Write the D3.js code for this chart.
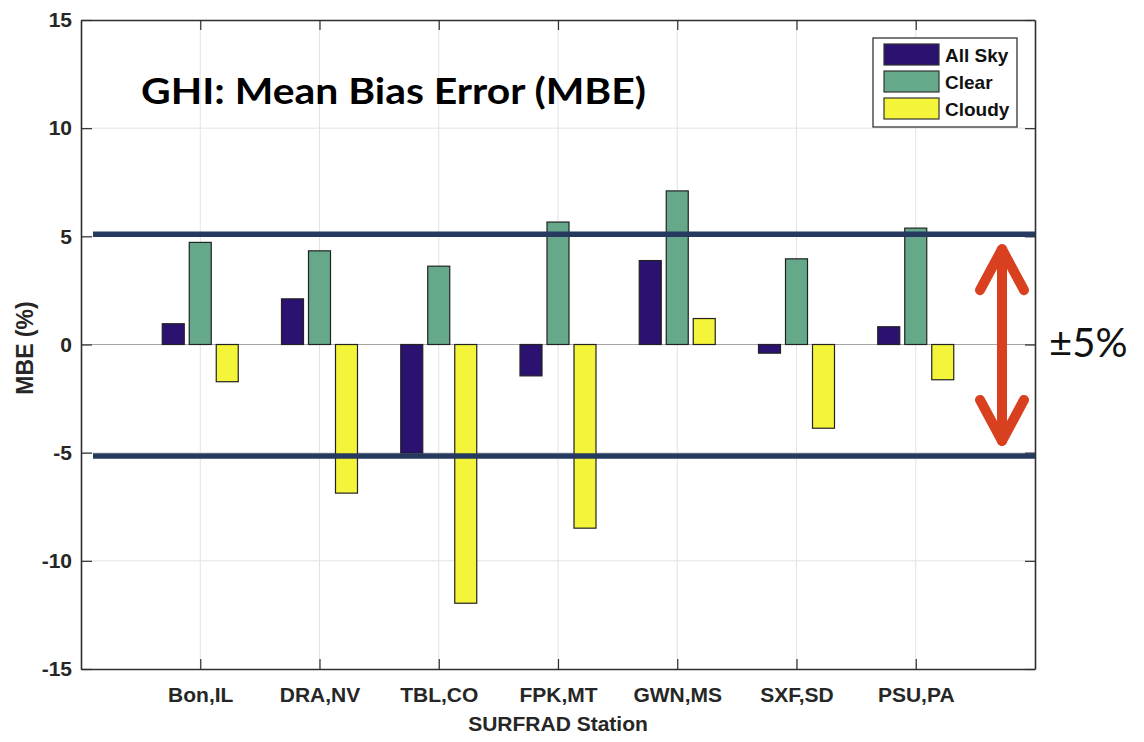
<!DOCTYPE html>
<html>
<head>
<meta charset="utf-8">
<script src="https://cdn.jsdelivr.net/npm/d3@7"></script>
<style>
  body { margin: 0; background: #fff; }
  svg { display: block; }
</style>
</head>
<body>
<div id="chart"></div>
<script>
// data
var stations = ['Bon,IL', 'DRA,NV', 'TBL,CO', 'FPK,MT', 'GWN,MS', 'SXF,SD', 'PSU,PA'];
var seriesNames = ['All Sky', 'Clear', 'Cloudy'];
var allSky = [0.96, 2.11, -5.02, -1.45, 3.88, -0.40, 0.82];
var clear  = [4.72, 4.33, 3.62, 5.66, 7.10, 3.96, 5.38];
var cloudy = [-1.72, -6.87, -11.96, -8.49, 1.20, -3.87, -1.63];
var yTicks = [-15, -10, -5, 0, 5, 10, 15];
var limitLines = [5.1, -5.15];   // the +-5% band drawn on the slide

var colors = ['#2b1170', '#65a98a', '#f4f53a'];

var width = 1144, height = 742;
var plotLeft = 81, plotRight = 1035, plotTop = 20, plotBottom = 669;

var svg = d3.select('#chart').append('svg')
    .attr('width', width)
    .attr('height', height);

var x = d3.scaleLinear().domain([0, stations.length + 1]).range([plotLeft, plotRight]);
var y = d3.scaleLinear().domain([-15, 15]).range([plotBottom, plotTop]);
var xSub = d3.scaleBand().domain(seriesNames).range([-38, 38]).paddingInner(0.185);

var axisFont = '"Liberation Sans", Arial, sans-serif';

// grid
var grid = svg.append('g');
grid.selectAll('line.h')
    .data(yTicks.filter(function(d) { return d !== 0 && Math.abs(d) !== 15; }))
    .enter().append('line')
    .attr('x1', plotLeft).attr('x2', plotRight)
    .attr('y1', function(d) { return y(d); })
    .attr('y2', function(d) { return y(d); })
    .style('stroke', '#e2e2e2').style('stroke-width', 1);
grid.selectAll('line.v')
    .data(stations)
    .enter().append('line')
    .attr('x1', function(d, i) { return x(i + 1); })
    .attr('x2', function(d, i) { return x(i + 1); })
    .attr('y1', plotTop).attr('y2', plotBottom)
    .style('stroke', '#e2e2e2').style('stroke-width', 1);
grid.append('line')
    .attr('x1', plotLeft).attr('x2', plotRight)
    .attr('y1', y(0)).attr('y2', y(0))
    .style('stroke', '#a6a6a6').style('stroke-width', 1.2);

// bars
var rows = [];
stations.forEach(function(s, i) {
    [allSky, clear, cloudy].forEach(function(arr, k) {
        rows.push({ i: i, k: k, v: arr[i] });
    });
});
svg.append('g')
    .selectAll('rect')
    .data(rows)
    .enter().append('rect')
    .attr('x', function(d) { return x(d.i + 1) + xSub(seriesNames[d.k]); })
    .attr('y', function(d) { return y(Math.max(0, d.v)); })
    .attr('width', xSub.bandwidth())
    .attr('height', function(d) { return Math.abs(y(d.v) - y(0)); })
    .style('fill', function(d) { return colors[d.k]; })
    .style('stroke', '#222')
    .style('stroke-width', 1.2);

// axes (matlab style, ticks inside, box)
svg.append('g')
    .attr('transform', 'translate(' + plotLeft + ',0)')
    .call(d3.axisLeft(y).tickValues(yTicks).tickFormat(function(d) { return String(d); })
        .tickSizeInner(-11).tickSizeOuter(0).tickPadding(9));
svg.append('g')
    .attr('transform', 'translate(' + plotRight + ',0)')
    .call(d3.axisRight(y).tickValues(yTicks).tickFormat('')
        .tickSizeInner(-10).tickSizeOuter(0));
svg.append('g')
    .attr('transform', 'translate(0,' + plotBottom + ')')
    .call(d3.axisBottom(x).tickValues(d3.range(1, stations.length + 1))
        .tickFormat(function(d) { return stations[d - 1]; })
        .tickSizeInner(-10).tickSizeOuter(0).tickPadding(18));
svg.append('g')
    .attr('transform', 'translate(0,' + plotTop + ')')
    .call(d3.axisTop(x).tickValues(d3.range(1, stations.length + 1)).tickFormat('')
        .tickSizeInner(-10).tickSizeOuter(0));

svg.selectAll('.domain').style('stroke', '#2e2e2e').style('stroke-width', 1.6);
svg.selectAll('.tick line').style('stroke', '#2e2e2e').style('stroke-width', 1.2);
svg.selectAll('.tick text')
    .style('font-family', axisFont)
    .style('font-weight', 'bold')
    .style('font-size', '21px')
    .style('fill', '#262626');

// axis titles
svg.append('text')
    .attr('x', (plotLeft + plotRight) / 2)
    .attr('y', 731)
    .attr('text-anchor', 'middle')
    .style('font-family', axisFont).style('font-weight', 'bold')
    .style('font-size', '21px').style('fill', '#262626')
    .text('SURFRAD Station');
svg.append('text')
    .attr('transform', 'translate(33,348) rotate(-90)')
    .attr('text-anchor', 'middle')
    .style('font-family', axisFont).style('font-weight', 'bold')
    .style('font-size', '23px').style('fill', '#262626')
    .text('MBE (%)');

// +-5% lines
svg.append('g')
    .selectAll('line')
    .data(limitLines)
    .enter().append('line')
    .attr('x1', 93).attr('x2', plotRight)
    .attr('y1', function(d) { return y(d); })
    .attr('y2', function(d) { return y(d); })
    .style('stroke', '#253a5e')
    .style('stroke-width', 5.5);

// red double arrow
var ax = 1002;
var yUp = y(limitLines[0]) + 15, yDn = y(limitLines[1]) - 15;
var arrow = svg.append('g')
    .style('stroke', '#d9401f')
    .style('stroke-width', 10)
    .style('stroke-linecap', 'round')
    .style('stroke-linejoin', 'round')
    .style('fill', 'none');
arrow.append('line')
    .attr('x1', ax).attr('x2', ax)
    .attr('y1', yUp).attr('y2', yDn);
arrow.append('path')
    .attr('d', 'M' + (ax - 22) + ',' + (yUp + 41) + 'L' + ax + ',' + yUp + 'L' + (ax + 22) + ',' + (yUp + 41));
arrow.append('path')
    .attr('d', 'M' + (ax - 22) + ',' + (yDn - 41) + 'L' + ax + ',' + yDn + 'L' + (ax + 22) + ',' + (yDn - 41));

svg.append('text')
    .attr('x', 1049)
    .attr('y', 357)
    .style('font-family', 'Lato, "Open Sans", sans-serif')
    .style('font-size', '40px')
    .style('fill', '#111')
    .text('±5%');

// title
svg.append('text')
    .attr('x', 141)
    .attr('y', 104)
    .attr('textLength', 505)
    .attr('lengthAdjust', 'spacingAndGlyphs')
    .style('font-family', 'Lato, "Open Sans", sans-serif')
    .style('font-weight', 'bold')
    .style('font-size', '37px')
    .style('fill', '#000')
    .text('GHI: Mean Bias Error (MBE)');

// legend
var legend = svg.append('g').attr('transform', 'translate(873,38)');
legend.append('rect')
    .attr('width', 144).attr('height', 89)
    .style('fill', '#fff').style('stroke', '#333').style('stroke-width', 1.3);
var item = legend.selectAll('g.item')
    .data(seriesNames)
    .enter().append('g')
    .attr('transform', function(d, i) { return 'translate(11,' + (6 + i * 27) + ')'; });
item.append('rect')
    .attr('width', 55).attr('height', 21)
    .style('fill', function(d, i) { return colors[i]; })
    .style('stroke', '#333').style('stroke-width', 1.2);
item.append('text')
    .attr('x', 61).attr('y', 18)
    .style('font-family', axisFont).style('font-weight', 'bold')
    .style('font-size', '19px').style('fill', '#111')
    .text(function(d) { return d; });
</script>
</body>
</html>
